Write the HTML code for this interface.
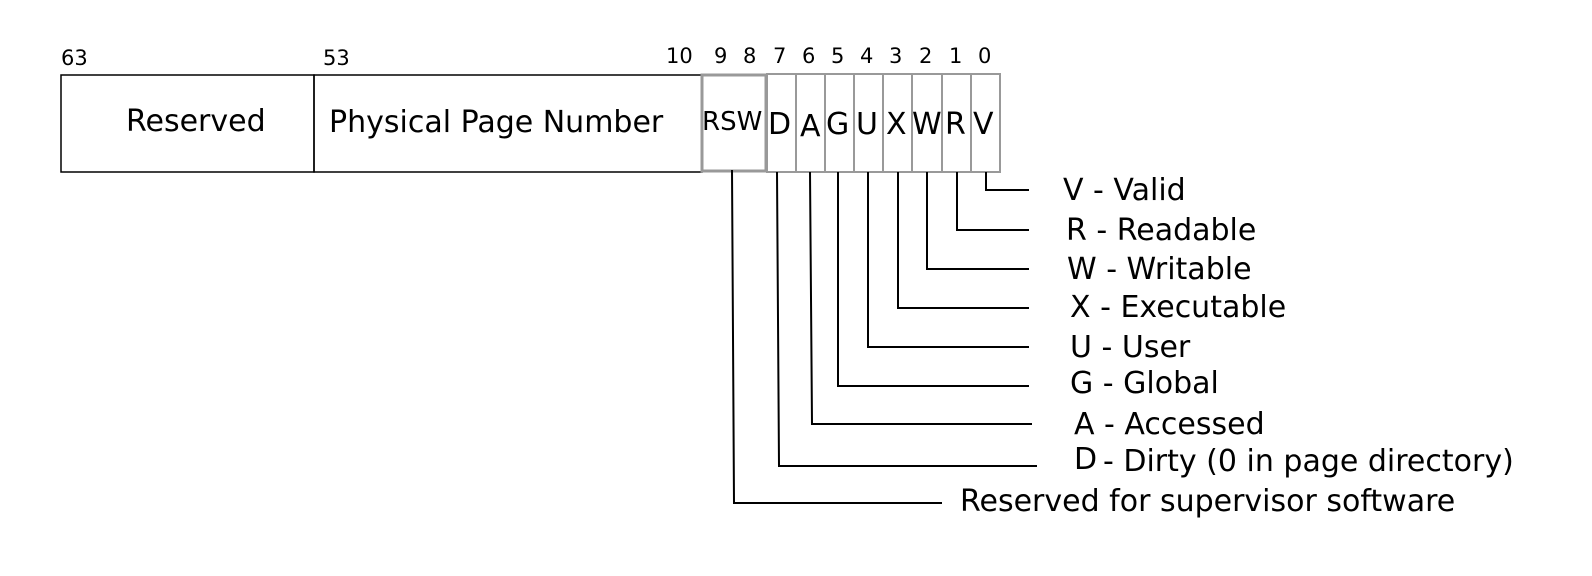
<!DOCTYPE html>
<html><head><style>body{margin:0;background:#fff}svg{display:block}</style></head><body>
<svg width="1592" height="576" xmlns="http://www.w3.org/2000/svg" font-family="DejaVu Sans, Liberation Sans, sans-serif">
<g font-size="21" fill="#000">
<text x="61" y="65">63</text><text x="323" y="65">53</text><text x="666" y="63">10</text>
<text x="714" y="63">9</text><text x="743" y="63">8</text><text x="773" y="63">7</text><text x="802" y="63">6</text><text x="831" y="63">5</text><text x="860" y="63">4</text><text x="889" y="63">3</text><text x="919" y="63">2</text><text x="949" y="63">1</text><text x="978" y="63">0</text>
</g>
<g fill="none" stroke="#000" stroke-width="1.5">
<rect x="61" y="75" width="253" height="97"/>
<rect x="314" y="75" width="388" height="97"/>
</g>
<g fill="none" stroke="#999" stroke-width="2">
<rect x="702" y="75" width="64" height="96" stroke-width="3"/>
<rect x="767" y="74" width="29" height="98"/><rect x="796" y="74" width="29" height="98"/><rect x="825" y="74" width="29" height="98"/><rect x="854" y="74" width="29" height="98"/><rect x="883" y="74" width="29" height="98"/><rect x="912" y="74" width="30" height="98"/><rect x="942" y="74" width="29" height="98"/><rect x="971" y="74" width="29" height="98"/>
</g>
<g font-size="30" fill="#000">
<text x="126" y="131">Reserved</text>
<text x="329" y="132">Physical Page Number</text>
<text x="702" y="130" font-size="26">RSW</text>
<text x="768" y="134">D</text><text x="800" y="136">A</text><text x="826" y="134">G</text><text x="856" y="134">U</text><text x="886" y="134">X</text><text x="912" y="134">W</text><text x="945" y="134">R</text><text x="973" y="134">V</text>
</g>
<g fill="none" stroke="#000" stroke-width="2">
<polyline points="986,172 986,190 1029,190"/>
<polyline points="957,172 957,230 1029,230"/>
<polyline points="927,172 927,269 1029,269"/>
<polyline points="898,172 898,308 1029,308"/>
<polyline points="868,172 868,347 1029,347"/>
<polyline points="838,172 838,386 1029,386"/>
<polyline points="810,172 812,424 1032,424"/>
<polyline points="777,172 779,466 1037,466"/>
<polyline points="732,170 734,503 942,503"/>
</g>
<g font-size="30" fill="#000">
<text x="1063" y="200">V - Valid</text>
<text x="1066" y="240">R  - Readable</text>
<text x="1067" y="279">W - Writable</text>
<text x="1070" y="317">X - Executable</text>
<text x="1070" y="357">U - User</text>
<text x="1070" y="393">G - Global</text>
<text x="1074" y="434">A - Accessed</text>
<text x="1074" y="469">D</text><text x="1103" y="471">- Dirty (0 in page directory)</text>
<text x="960" y="511">Reserved for supervisor software</text>
</g>
</svg>
</body></html>
